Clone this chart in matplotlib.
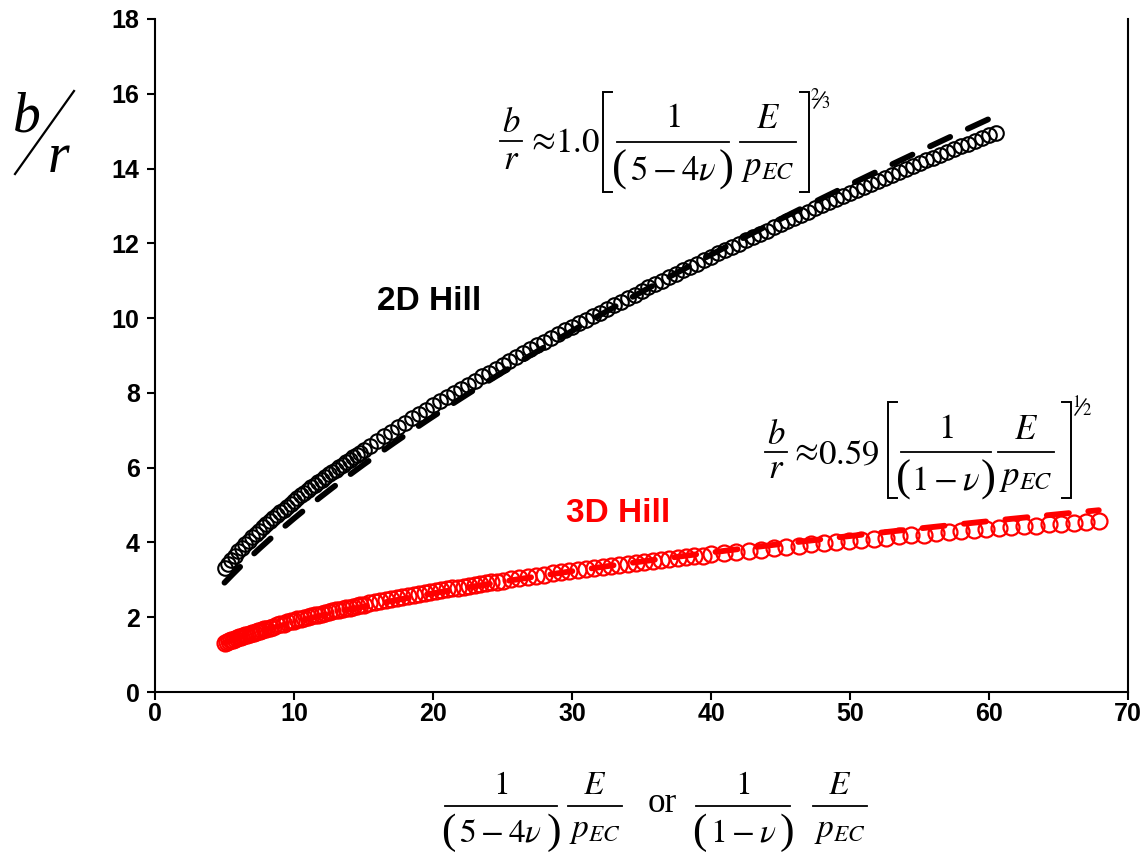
import matplotlib
matplotlib.use("Agg")
import matplotlib.pyplot as plt
import numpy as np
from matplotlib.lines import Line2D
from matplotlib.transforms import Affine2D

plt.rcParams['font.family'] = ['Liberation Sans', 'DejaVu Sans']
plt.rcParams['mathtext.fontset'] = 'stix'
plt.rcParams['lines.scale_dashes'] = False

# 2D Hill solution: normalised stiffness vs b/r
x2d = [5.0, 5.25, 5.5, 5.75, 6.0, 6.25, 6.5, 6.75, 7.0, 7.25, 7.5, 7.75, 8.0, 8.25,
       8.5, 8.75, 9.0, 9.25, 9.5, 9.75, 10.0, 10.25, 10.5, 10.75, 11.0, 11.25, 11.5,
       11.75, 12.0, 12.25, 12.5, 12.75, 13.0, 13.25, 13.5, 13.75, 14.0, 14.25, 14.5,
       14.75, 15.0,
       15.5, 16.0, 16.5, 17.0, 17.5, 18.0, 18.5, 19.0, 19.5, 20.0,
       20.5, 21.0, 21.5, 22.0, 22.5, 23.0, 23.5, 24.0, 24.5, 25.0,
       25.5, 26.0, 26.5, 27.0, 27.5, 28.0, 28.5, 29.0, 29.5, 30.0,
       30.5, 31.0, 31.5, 32.0, 32.5, 33.0, 33.5, 34.0, 34.5, 35.0,
       35.5, 36.0, 36.5, 37.0, 37.5, 38.0, 38.5, 39.0, 39.5, 40.0,
       40.5, 41.0, 41.5, 42.0, 42.5, 43.0, 43.5, 44.0, 44.5, 45.0,
       45.5, 46.0, 46.5, 47.0, 47.5, 48.0, 48.5, 49.0, 49.5, 50.0,
       50.5, 51.0, 51.5, 52.0, 52.5, 53.0, 53.5, 54.0, 54.5, 55.0,
       55.5, 56.0, 56.5, 57.0, 57.5, 58.0, 58.5, 59.0, 59.5, 60.0,
       60.5]
b2d = [3.32, 3.43, 3.54, 3.65, 3.76, 3.86, 3.95, 4.05, 4.14, 4.23,
       4.31, 4.40, 4.49, 4.57, 4.65, 4.73, 4.81, 4.88, 4.96, 5.03,
       5.11, 5.18, 5.26, 5.33, 5.40, 5.47, 5.54, 5.61, 5.68, 5.75,
       5.82, 5.88, 5.95, 6.02, 6.08, 6.15, 6.21, 6.28, 6.34, 6.40,
       6.47,
       6.59, 6.72, 6.84, 6.96, 7.08, 7.20, 7.32, 7.44, 7.55, 7.67,
       7.78, 7.89, 8.00, 8.11, 8.22, 8.33, 8.44, 8.54, 8.65, 8.75,
       8.86, 8.96, 9.06, 9.17, 9.27, 9.37, 9.47, 9.57, 9.67, 9.76,
       9.86, 9.96, 10.06, 10.15, 10.25, 10.34, 10.44, 10.53, 10.63, 10.72,
       10.82, 10.91, 11.00, 11.09, 11.19, 11.28, 11.37, 11.46, 11.55, 11.64,
       11.73, 11.82, 11.91, 11.99, 12.08, 12.17, 12.26, 12.34, 12.43, 12.51,
       12.60, 12.68, 12.77, 12.85, 12.94, 13.02, 13.10, 13.18, 13.27, 13.35,
       13.43, 13.51, 13.59, 13.67, 13.75, 13.83, 13.91, 13.98, 14.06, 14.14,
       14.22, 14.29, 14.37, 14.44, 14.52, 14.59, 14.67, 14.74, 14.82, 14.89,
       14.96]

# 3D Hill solution
x3d = [5.00, 5.15, 5.30, 5.45, 5.60, 5.75, 5.90, 6.05, 6.20, 6.35, 6.50, 6.65,
       6.80, 6.95, 7.10, 7.25, 7.40, 7.55, 7.70, 7.85, 8.00,
       8.25, 8.5, 8.75, 9.0, 9.25, 9.5, 9.75, 10.0, 10.25, 10.5, 10.75, 11.0,
       11.25, 11.5, 11.75, 12.0, 12.25, 12.5, 12.75, 13.0, 13.25, 13.5, 13.75,
       14.0, 14.25, 14.5, 14.75, 15.0,
       15.4, 15.8, 16.2, 16.6, 17.0, 17.4, 17.8, 18.2, 18.6, 19.0, 19.4, 19.8,
       20.2, 20.6, 21.0, 21.4, 21.8, 22.2, 22.6, 23.0, 23.4, 23.8, 24.2, 24.6, 25.0,
       25.6, 26.2, 26.8, 27.4, 28.0, 28.6, 29.2, 29.8, 30.4, 31.0, 31.6, 32.2,
       32.8, 33.4, 34.0, 34.6, 35.2, 35.8, 36.4, 37.0, 37.6, 38.2, 38.8, 39.4, 40.0,
       40.9, 41.8, 42.7, 43.6, 44.5, 45.4, 46.3, 47.2, 48.1, 49.0, 49.9, 50.8,
       51.7, 52.6, 53.5, 54.4, 55.3, 56.2, 57.1, 58.0, 58.9, 59.8, 60.7, 61.6,
       62.5, 63.4, 64.3, 65.2, 66.1, 67.0, 67.9]
b3d = [1.32, 1.34, 1.36, 1.38, 1.40, 1.42, 1.44, 1.46, 1.48, 1.50, 1.52, 1.53,
       1.55, 1.57, 1.59, 1.61, 1.62, 1.64, 1.66, 1.68, 1.69,
       1.72, 1.75, 1.78, 1.81, 1.83, 1.86, 1.89, 1.91, 1.94, 1.96, 1.98, 2.01,
       2.03, 2.05, 2.07, 2.09, 2.12, 2.14, 2.16, 2.18, 2.20, 2.22, 2.24,
       2.26, 2.28, 2.30, 2.32, 2.34,
       2.37, 2.40, 2.43, 2.46, 2.49, 2.51, 2.54, 2.57, 2.59, 2.62, 2.65, 2.67,
       2.70, 2.72, 2.75, 2.77, 2.79, 2.82, 2.84, 2.86, 2.89, 2.91, 2.93, 2.95, 2.98,
       3.01, 3.04, 3.07, 3.10, 3.14, 3.17, 3.20, 3.23, 3.25, 3.28, 3.31, 3.34,
       3.37, 3.39, 3.42, 3.45, 3.47, 3.50, 3.53, 3.55, 3.58, 3.60, 3.63, 3.65, 3.68,
       3.71, 3.75, 3.78, 3.81, 3.85, 3.88, 3.91, 3.95, 3.98, 4.01, 4.04, 4.07,
       4.10, 4.13, 4.16, 4.19, 4.21, 4.24, 4.27, 4.30, 4.32, 4.35, 4.38, 4.40,
       4.43, 4.45, 4.48, 4.50, 4.52, 4.55, 4.57]

# power-law fits  b/r = C * x**n
c2d, n2d = 1.0, 2.0 / 3.0
c3d, n3d = 0.59, 0.5

W, H = 1146.0, 858.0
fig = plt.figure(figsize=(W / 100, H / 100), dpi=100)
ax = fig.add_axes([155 / W, 1 - 692 / H, (1128 - 155) / W, (692 - 19) / H])

xf2 = np.linspace(x2d[0], 60.2, 300)
xf3 = np.linspace(x3d[0], x3d[-1], 300)
dash = (16, 14)
ax.plot(xf2, c2d * xf2 ** n2d, color='black', lw=4.2, dashes=dash,
        dash_capstyle='round', zorder=2)
ax.plot(xf3, c3d * xf3 ** n3d, color='red', lw=4.2, dashes=dash,
        dash_capstyle='round', zorder=2)

ax.plot(x2d, b2d, 'o', ms=10.5, mfc='none', mec='black', mew=1.5, zorder=3)
ax.plot(x3d, b3d, 'o', ms=11.5, mfc='none', mec='red', mew=1.6, zorder=3)

ax.set_xlim(0, 70)
ax.set_ylim(0, 18)
ax.set_xticks(np.arange(0, 71, 10))
ax.set_yticks(np.arange(0, 19, 2))
ax.spines['top'].set_visible(False)
for s in ('left', 'bottom', 'right'):
    ax.spines[s].set_linewidth(1.5)
ax.tick_params(direction='out', length=6, width=1.5, labelsize=18)
ax.tick_params(axis='x', pad=1)
ax.tick_params(axis='y', pad=5)
for lab in ax.get_xticklabels() + ax.get_yticklabels():
    lab.set_fontweight('bold')

# pixel coordinates measured from the top-left corner of the figure
px = Affine2D().scale(1, -1).translate(0, H)
serif = ['Liberation Serif', 'DejaVu Serif']


def txt(x, y, s, fs, ha='center', va='baseline', **kw):
    fig.text(x, y, s, transform=px, fontsize=fs, ha=ha, va=va, **kw)


def hline(x0, x1, y, lw=1.3):
    fig.add_artist(Line2D([x0, x1], [y, y], transform=px, color='black', lw=lw))


def bracket(x, y0, y1, side):
    d = 9 * side
    fig.add_artist(Line2D([x + d, x, x, x + d], [y0, y0, y1, y1], transform=px,
                          color='black', lw=1.4, solid_joinstyle='miter'))


def frac(xc, ybar, w, num, den, fs, nb, db):
    hline(xc - w / 2, xc + w / 2, ybar)
    txt(xc, ybar - nb, num, fs)
    txt(xc, ybar + db, den, fs)


def paren_den(xc, ybar, w, inner, fs, db, dy=28):
    # denominator written with tall parentheses
    txt(xc, ybar + db, inner, fs)
    txt(xc - w / 2 + 3, ybar + dy, '(', fs * 1.3, family=serif, va='center')
    txt(xc + w / 2 - 3, ybar + dy, ')', fs * 1.3, family=serif, va='center')


def slashfrac(x, ytop, a, b, fs):
    txt(x + 3, ytop + 9, a, fs)
    fig.add_artist(Line2D([x + 2, x + 13], [ytop + 17, ytop + 1], transform=px,
                          color='black', lw=1.0))
    txt(x + 14, ytop + 17, b, fs)


# b/r = 1.0 [ ... ]^(2/3)
fs = 25
frac(511, 141, 22, r'$b$', r'$r$', fs, 9, 28)
txt(541, 150, r'$\approx$', fs)
txt(555, 152, r'$1.0$', fs, ha='left')
bracket(603, 92, 192, 1)
frac(673, 142, 112, r'$1$', '', fs, 15, 36)
paren_den(673, 142, 112, r'$5-4\nu$', fs, 37)
frac(768, 142, 56, r'$E$', r'$p_{EC}$', fs, 14, 33)
bracket(809, 92, 192, -1)
slashfrac(812, 91, r'$2$', r'$3$', 12)

# b/r = 0.59 [ ... ]^(1/2)
frac(776, 452, 22, r'$b$', r'$r$', fs, 8, 26)
txt(804, 461, r'$\approx$', fs)
txt(818, 464, r'$0.59$', fs, ha='left')
bracket(888, 402, 498, 1)
frac(946, 452, 90, r'$1$', '', fs, 14, 36)
paren_den(946, 452, 90, r'$1-\nu$', fs, 37)
frac(1026, 452, 56, r'$E$', r'$p_{EC}$', fs, 13, 33)
bracket(1071, 402, 498, -1)
slashfrac(1073, 398, r'$1$', r'$2$', 12)

# x-axis title
fx = 24
frac(501, 806, 112, r'$1$', '', fx, 12, 36, )
paren_den(501, 806, 112, r'$5-4\nu$', fx, 36, dy=27)
frac(595, 806, 54, r'$E$', r'$p_{EC}$', fx, 12, 31)
txt(662, 812, 'or', fx * 1.05, family=serif)
frac(743, 806, 94, r'$1$', '', fx, 12, 36)
paren_den(743, 806, 94, r'$1-\nu$', fx, 36, dy=27)
frac(840, 806, 54, r'$E$', r'$p_{EC}$', fx, 12, 31)

# y-axis title
txt(27, 132, 'b', 40, family=serif, style='italic')
txt(59, 172, 'r', 40, family=serif, style='italic')
fig.add_artist(Line2D([15, 74], [174, 91], transform=px, color='black', lw=1.6))

txt(429, 301, '2D Hill', 24, fontweight='bold', va='center')
txt(618, 513, '3D Hill', 24, fontweight='bold', color='red', va='center')

fig.savefig('out.png', dpi=100)
